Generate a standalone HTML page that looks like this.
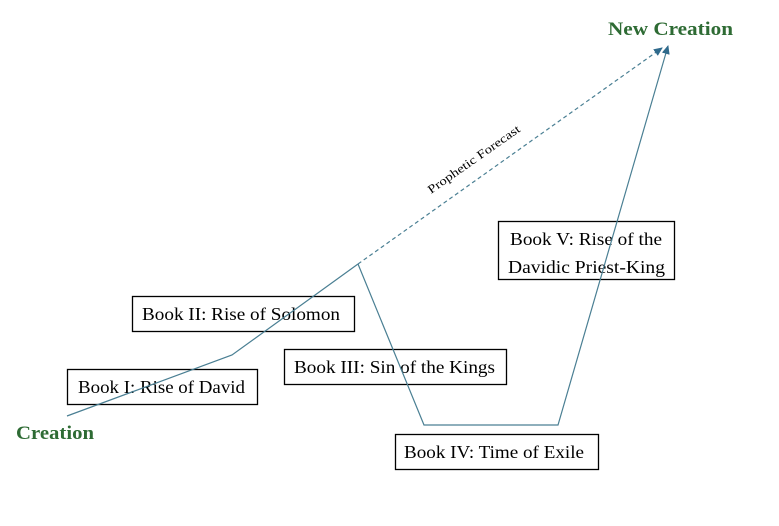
<!DOCTYPE html>
<html><head><style>
body{margin:0;background:#fff;}
svg{display:block;font-family:"Liberation Serif",serif;}
</style></head><body>
<svg width="779" height="526" viewBox="0 0 779 526">
<defs>
<marker id="a" markerWidth="10" markerHeight="10" refX="8" refY="5" orient="auto" markerUnits="userSpaceOnUse">
<path d="M0,1 L9,5 L0,9 z" fill="#2f6a8c"/></marker>
</defs>
<g fill="#fff" stroke="#000" stroke-width="1.3">
<rect x="67.5" y="369.5" width="190" height="35"/>
<rect x="132.5" y="296.5" width="222" height="35"/>
<rect x="284.5" y="349.5" width="222" height="35"/>
<rect x="395.5" y="434.5" width="203" height="35"/>
<rect x="498.5" y="221.5" width="176" height="58"/>
</g>
<g font-size="18" fill="#000" lengthAdjust="spacingAndGlyphs">
<text x="78" y="393" textLength="167" lengthAdjust="spacingAndGlyphs">Book I: Rise of David</text>
<text x="142" y="320" textLength="198" lengthAdjust="spacingAndGlyphs">Book II: Rise of Solomon</text>
<text x="294" y="373" textLength="201" lengthAdjust="spacingAndGlyphs">Book III: Sin of the Kings</text>
<text x="404" y="458" textLength="180" lengthAdjust="spacingAndGlyphs">Book IV: Time of Exile</text>
<text x="510" y="245" textLength="152" lengthAdjust="spacingAndGlyphs">Book V: Rise of the</text>
<text x="508" y="273" textLength="157" lengthAdjust="spacingAndGlyphs">Davidic Priest-King</text>
</g>
<g fill="none" stroke="#4a7f93" stroke-width="1.2">
<polyline points="67,416 232,355 358,264"/>
<line x1="358" y1="264" x2="662" y2="48" stroke-dasharray="4,3" marker-end="url(#a)"/>
<polyline points="358,264 424,425 558,425 668,46" marker-end="url(#a)"/>
</g>
<g font-weight="bold" font-size="19" fill="#2e6b34">
<text x="16" y="439" textLength="78" lengthAdjust="spacingAndGlyphs">Creation</text>
<text x="608" y="35" textLength="125" lengthAdjust="spacingAndGlyphs">New Creation</text>
</g>
<text x="0" y="0" font-size="12" textLength="110" lengthAdjust="spacingAndGlyphs" transform="translate(431,194) rotate(-35)">Prophetic Forecast</text>
</svg>
</body></html>
